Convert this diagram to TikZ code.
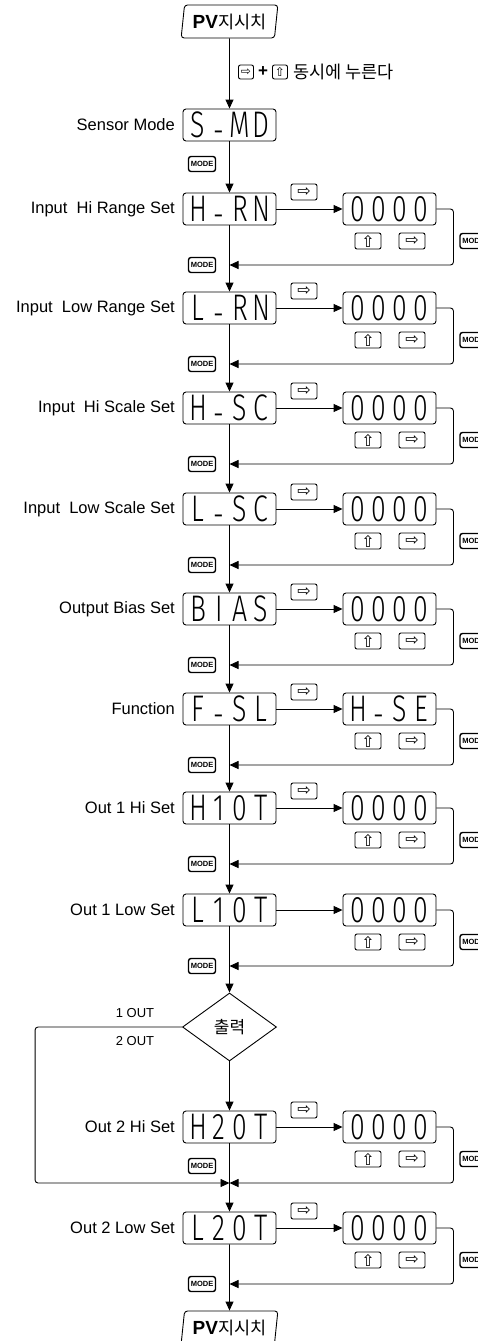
\documentclass[tikz,border=0pt]{standalone}
\usepackage{fontspec}
\setmainfont{Liberation Sans}
\newfontfamily\seg{Fira Sans Light}[FakeStretch=0.72]
\newfontfamily\kr{Noto Sans CJK KR}
\newfontfamily\sym{DejaVu Sans}
\usetikzlibrary{arrows.meta,shapes.geometric}
\newcommand\dsp[4]{\seg\fontsize{37}{37}\selectfont\makebox[21pt]{#1}\makebox[21pt]{#2}\makebox[21pt]{#3}\makebox[21pt]{#4}}
\newcommand\dd{\raisebox{-6pt}{-}}
\tikzset{
 lcd/.style={draw, rounded corners=3pt, minimum width=93pt, minimum height=32pt, inner sep=0pt, line width=0.9pt, text height=25.5pt, text depth=0pt},
 btn/.style={draw, rounded corners=2pt, minimum width=26pt, minimum height=16pt, inner sep=0pt, line width=0.9pt, font=\sym\fontsize{16}{16}\selectfont},
 sbtn/.style={draw, rounded corners=2pt, minimum width=15pt, minimum height=14pt, inner sep=0pt, line width=0.9pt, font=\sym\fontsize{12}{12}\selectfont},
 modebtn/.style={draw, rounded corners=2.5pt, minimum width=27pt, minimum height=15pt, inner sep=0pt, line width=1.4pt, font=\bfseries\fontsize{7.5}{7.5}\selectfont},
 lbl/.style={anchor=east, font=\fontsize{16.5}{18}\selectfont, inner sep=0pt},
 arr/.style={-{Triangle[length=9pt,width=8pt]}, line width=0.9pt},
 pvbox/.style={draw, trapezium, trapezium left angle=80, trapezium right angle=100, trapezium stretches=true, minimum width=97pt, minimum height=33pt, rounded corners=3pt, line width=0.9pt, inner sep=0pt},
}
\begin{document}
\begin{tikzpicture}[x=1pt,y=-1pt]
\useasboundingbox (0,0) rectangle (477,1341);
\fill[white] (0,0) rectangle (477,1341);
% top
\node[pvbox] (pvtop) at (229.5,21.5) {{\bfseries\fontsize{19}{19}\selectfont PV}{\kr\fontsize{17.5}{17.5}\selectfont 지시치}};
\node[sbtn] (k1) at (246,72) {⇨};
\node[font=\bfseries\fontsize{17}{17}\selectfont, inner sep=0pt] (kp) at (263,72) {+};
\node[sbtn] (k2) at (280,72) {⇧};
\node[anchor=west, inner sep=0pt, font=\kr\fontsize{17.5}{17.5}\selectfont] (kt) at (293,72) {동시에 누른다};
% sensor mode
\node[lbl] (lsm) at (175,125) {Sensor Mode};
\node[lcd] (smd) at (229.5,125) {\dsp{S}{\dd}{M}{D}};
\node[modebtn] (q0) at (202,164) {MODE};
\draw[arr] (pvtop) -- (smd);
% rows
\foreach \i/\y/\lab/\ma/\mb/\mc/\md/\va/\vb/\vc/\vd in {
 1/209/{Input\ \ Hi Range Set}/H/\dd/R/N/0/0/0/0,
 2/308/{Input\ \ Low Range Set}/L/\dd/R/N/0/0/0/0,
 3/408/{Input\ \ Hi Scale Set}/H/\dd/S/C/0/0/0/0,
 4/509/{Input\ \ Low Scale Set}/L/\dd/S/C/0/0/0/0,
 5/609/{Output Bias Set}/B/I/A/S/0/0/0/0,
 6/709/{Function}/F/\dd/S/L/H/\dd/S/E,
 7/808/{Out 1 Hi Set}/H/1/0/T/0/0/0/0,
 8/910/{Out 1 Low Set}/L/1/0/T/0/0/0/0,
 9/1127/{Out 2 Hi Set}/H/2/0/T/0/0/0/0,
 10/1228/{Out 2 Low Set}/L/2/0/T/0/0/0/0}{
 \node[lbl] (l\i) at (175,\y) {\lab};
 \node[lcd] (m\i) at (229.5,\y) {\dsp{\ma}{\mb}{\mc}{\md}};
 \node[lcd] (v\i) at (389.5,\y) {\dsp{\va}{\vb}{\vc}{\vd}};
 \node[btn] (u\i) at (368,\y+32) {⇧};
 \node[btn] (s\i) at (412,\y+32) {⇨};
 \node[modebtn] (q\i) at (473.5,\y+32) {MODE};
 \coordinate (r\i) at (229.5,\y+56);
 \draw[arr] (m\i) -- (v\i);
 \draw[arr, rounded corners=3pt] (v\i.east) -- ++(17,0) |- (r\i);
}
% top right-arrow buttons
\foreach \i/\y in {1/209,2/308,3/408,4/509,5/609,6/709,7/808,9/1127,10/1228}{
 \node[btn] (t\i) at (304,\y-17) {⇨};
}
% left MODE buttons
\foreach \i/\y in {1/265,2/364,3/464,4/565,5/665,6/765,7/864,8/966,9/1166,10/1284}{
 \node[modebtn] (p\i) at (202,\y) {MODE};
}
% diamond
\node[draw, diamond, minimum width=94pt, minimum height=68pt, inner sep=0pt, line width=0.9pt, font=\kr\fontsize{17}{17}\selectfont] (dia) at (229.5,1027) {출력};
\node[font=\fontsize{13}{13}\selectfont, inner sep=0pt] (o1) at (135,1013) {1 OUT};
\node[font=\fontsize{13}{13}\selectfont, inner sep=0pt] (o2) at (135,1041) {2 OUT};
% bottom
\node[pvbox] (pvbot) at (229.5,1327.5) {{\bfseries\fontsize{19}{19}\selectfont PV}{\kr\fontsize{17.5}{17.5}\selectfont 지시치}};
% main flow
\draw[arr] (smd) -- (m1);
\foreach \a/\b in {1/2,2/3,3/4,4/5,5/6,6/7,7/8,9/10}{
 \draw[arr] (m\a) -- (m\b);
}
\draw[arr] (m8) -- (dia);
\draw[arr] (dia) -- (m9);
\draw[arr] (m10) -- (pvbot);
\draw[arr, rounded corners=3pt] (dia.west) -- ++(-147,0) |- (r9);
\end{tikzpicture}
\end{document}
